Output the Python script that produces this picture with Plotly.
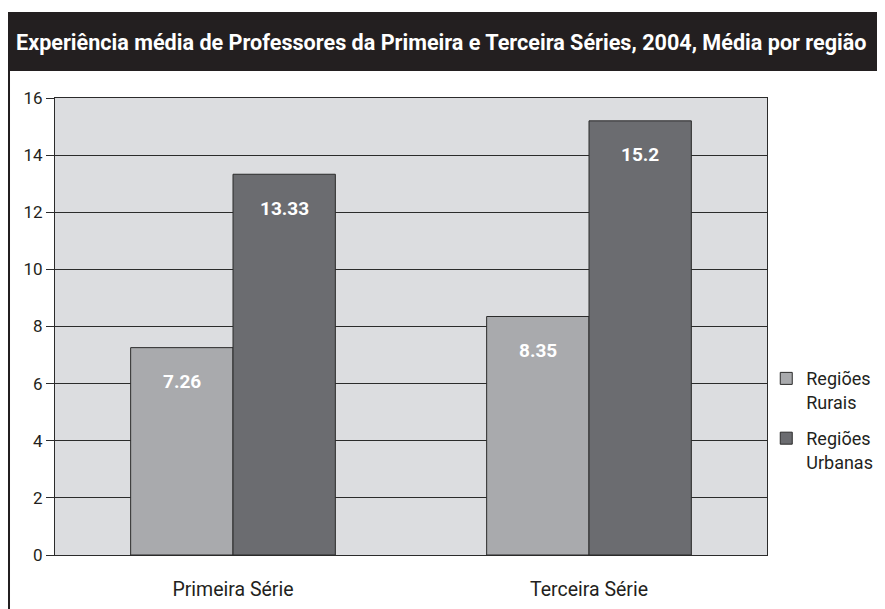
import plotly.graph_objects as go

# dados
series_names = ['Regiões<br>Rurais', 'Regiões<br>Urbanas']
categories = ['Primeira Série', 'Terceira Série']
rurais = [7.26, 8.35]
urbanas = [13.33, 15.2]
y_ticks = [0, 2, 4, 6, 8, 10, 12, 14, 16]

TITLE = 'Experiência média de Professores da Primeira e Terceira Séries, 2004, Média por região'
FONT = 'Roboto, Liberation Sans, sans-serif'
COLORS = ['#a9aaad', '#6b6c70']

fig = go.Figure()
for name, vals, color, grp in zip(series_names, [rurais, urbanas], COLORS, ['r', 'u']):
    fig.add_trace(go.Bar(
        x=categories, y=vals, name=name, legendgroup=grp,
        marker=dict(color=color, line=dict(color='#2b2b2b', width=1))))

# rótulos de valor dentro das barras
for vals, shift in [(rurais, -51), (urbanas, 51)]:
    for cat, v in zip(categories, vals):
        fig.add_annotation(
            x=cat, y=v, text=f'<b>{v:g}</b>', showarrow=False,
            xshift=shift, yshift=-34, yanchor='middle',
            font=dict(family=FONT, size=19, color='white'))

# faixa do título + borda esquerda
fig.add_shape(type='rect', xref='paper', yref='paper',
              x0=-0.07, x1=1.2, y0=1.059, y1=1.188,
              fillcolor='#231f20', line_width=0, layer='above')
fig.add_annotation(xref='paper', yref='paper', x=-0.0576, y=1.1225,
                   xanchor='left', yanchor='middle', showarrow=False,
                   text=f'<b>{TITLE}</b>',
                   font=dict(family=FONT, size=21.6, color='white'))
fig.add_shape(type='line', xref='paper', yref='paper',
              x0=-0.0646, x1=-0.0646, y0=-0.2, y1=1.06,
              line=dict(color='#231f20', width=2))

# a página tem margem de 8px: figura 877x601 para caber na janela 885x609
fig.update_layout(
    width=877, height=601, barmode='group', bargap=0.425, bargroupgap=0,
    margin=dict(l=47, r=118, t=90, b=54, autoexpand=False),
    plot_bgcolor='#dcdde0', paper_bgcolor='white',
    font=dict(family=FONT, size=17, color='#231f20'),
    showlegend=True,
    legend=dict(xref='container', x=0.8646, y=0.295, xanchor='left', yanchor='middle',
                font=dict(size=18), valign='top', tracegroupgap=10,
                bgcolor='rgba(0,0,0,0)'),
    xaxis=dict(showgrid=False, showline=True, linecolor='#2b2b2b', mirror=True,
               ticks='', tickfont=dict(size=19.5), ticklabelstandoff=17,
               automargin=False),
    yaxis=dict(range=[0, 16], tickvals=y_ticks, showgrid=True,
               gridcolor='#2b2b2b', gridwidth=1, zeroline=False,
               showline=True, linecolor='#2b2b2b', mirror=True,
               ticks='outside', ticklen=8, tickcolor='#2b2b2b',
               tickfont=dict(size=17), automargin=False))

fig.write_html('out.html')
